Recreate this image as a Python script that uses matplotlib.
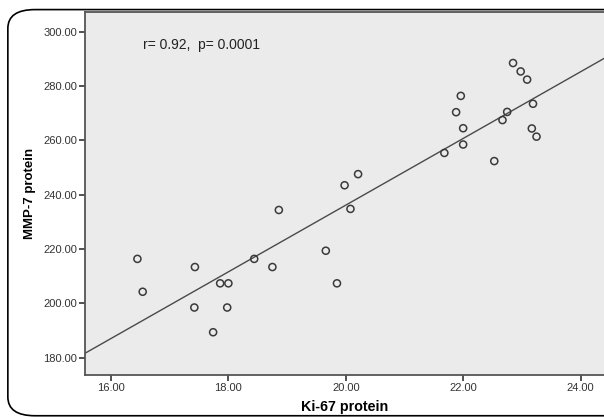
import numpy as np
import matplotlib.pyplot as plt
from matplotlib.patches import FancyBboxPatch

plt.rcParams['font.family'] = ['Liberation Sans', 'DejaVu Sans']

# Ki-67 vs MMP-7 protein readings
ki67 = [16.45, 16.54, 17.43, 17.42, 17.74, 17.86, 18.00, 17.98, 18.44, 18.75,
        18.86, 19.66, 19.85, 19.98, 20.08, 20.21, 21.68, 21.88, 21.96, 22.00,
        22.00, 22.53, 22.67, 22.75, 22.85, 22.98, 23.09, 23.19, 23.17, 23.25]
mmp7 = [216.4, 204.3, 213.4, 198.5, 189.4, 207.4, 207.4, 198.5, 216.4, 213.4,
        234.4, 219.4, 207.4, 243.5, 234.8, 247.6, 255.4, 270.4, 276.4, 264.5,
        258.5, 252.4, 267.5, 270.5, 288.5, 285.4, 282.4, 273.5, 264.4, 261.4]
x_ticks = [16, 18, 20, 22, 24]
y_ticks = [180, 200, 220, 240, 260, 280, 300]
stats_text = 'r= 0.92,  p= 0.0001'

fig = plt.figure(figsize=(6.04, 4.17), dpi=100)

# rounded outer frame
frame = FancyBboxPatch((0.013, 0.003), 1.2, 0.974,
                       boxstyle='round,pad=0,rounding_size=0.045',
                       transform=fig.transFigure, fill=False,
                       edgecolor='black', linewidth=1.2)
fig.add_artist(frame)

ax = fig.add_axes([0.141, 0.101, 0.86, 0.871])
ax.set_facecolor('#ebebeb')

ax.scatter(ki67, mmp7, s=26, facecolors='none', edgecolors='#3a3a3a',
           linewidths=1.1, zorder=3)

xlim = (15.56, 24.41)
ylim = (173.7, 307.4)
slope, intercept = np.polyfit(ki67, mmp7, 1)
xl = np.array(xlim)
ax.plot(xl, slope * xl + intercept, color='#4a4a4a', linewidth=1.0, zorder=2)

ax.set_xlim(*xlim)
ax.set_ylim(*ylim)
ax.set_xticks(x_ticks)
ax.set_yticks(y_ticks)
ax.set_xticklabels([f'{v:.2f}' for v in x_ticks])
ax.set_yticklabels([f'{v:.2f}' for v in y_ticks])
ax.tick_params(direction='out', length=4, width=1.2, color='#333333',
               labelsize=8, labelcolor='#333333', pad=2)

for side in ['left', 'bottom', 'top']:
    ax.spines[side].set_color('#555555')
    ax.spines[side].set_linewidth(1.3)
ax.spines['right'].set_visible(False)

ax.set_xlabel('Ki-67 protein', fontsize=10.3, fontweight='bold', labelpad=5)
ax.set_ylabel('MMP-7 protein', fontsize=9.5, fontweight='bold', labelpad=5)

ax.text(16.55, 295.2, stats_text, fontsize=10, color='#222222', va='center')

fig.savefig('out.png', dpi=100)
